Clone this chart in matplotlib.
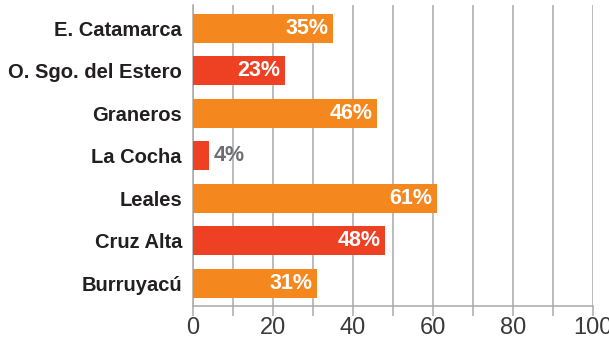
import matplotlib.pyplot as plt
import numpy as np

# data (top to bottom as shown)
regions = ["E. Catamarca", "O. Sgo. del Estero", "Graneros", "La Cocha",
           "Leales", "Cruz Alta", "Burruyacú"]
values = [35, 23, 46, 4, 61, 48, 31]
bar_colors = ["#F5871F", "#EE4023", "#F5871F", "#EE4023",
              "#F5871F", "#EE4023", "#F5871F"]

plt.rcParams['font.family'] = ['Liberation Sans', 'DejaVu Sans']

fig = plt.figure(figsize=(6.09, 3.39), dpi=100)
ax = fig.add_axes([0.317, 0.097, 0.657, 0.888])

y = np.arange(len(regions))
ax.barh(y, values, height=0.68, color=bar_colors, zorder=3)

# value labels
for yi, v in zip(y, values):
    if v >= 10:
        ax.text(v - 1.2, yi, f"{v}%", ha='right', va='center', color='white',
                fontsize=15.5, fontweight='bold', zorder=4)
    else:
        ax.text(v + 1.2, yi, f"{v}%", ha='left', va='center', color='#6D6E71',
                fontsize=15.5, fontweight='bold', zorder=4)

ax.set_xlim(0, 100)
ax.set_ylim(len(regions) - 0.47, -0.54)
ax.set_yticks(y)
ax.set_yticklabels(regions, fontsize=14.5, fontweight='bold', color='#231F20')
ax.tick_params(axis='y', length=0, pad=8)

ax.set_xticks(np.arange(0, 101, 20))
ax.set_xticks(np.arange(0, 101, 10), minor=True)
ax.tick_params(axis='x', which='both', length=7, width=1.1, color='#A7A9AC',
               labelsize=17, labelcolor='#3A3A3C', pad=1)
ax.grid(axis='x', which='both', color='#A7A9AC', linewidth=1.1, zorder=0)

for s in ['top', 'right']:
    ax.spines[s].set_visible(False)
for s in ['left', 'bottom']:
    ax.spines[s].set_color('#A7A9AC')
    ax.spines[s].set_linewidth(1.1)

fig.savefig("out.png", dpi=100)
